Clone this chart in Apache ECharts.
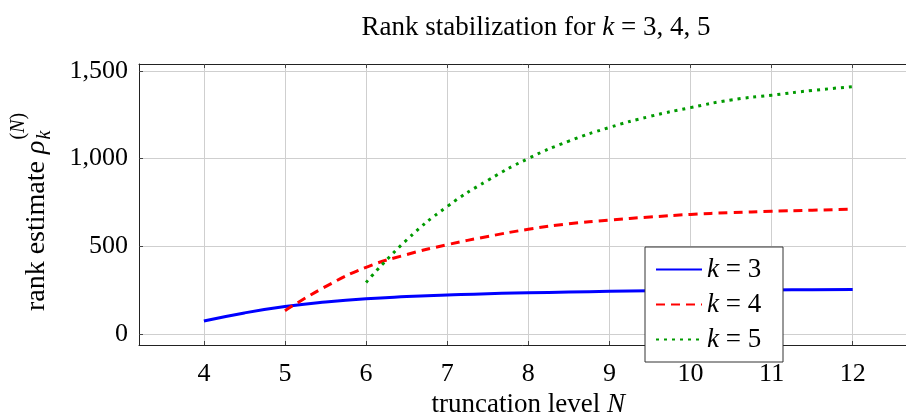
<!DOCTYPE html>
<html>
<head>
<meta charset="utf-8">
<script src="https://cdn.jsdelivr.net/npm/echarts@6/dist/echarts.min.js"></script>
<style>
html,body{margin:0;padding:0;background:#fff;}
#main{width:906px;height:414px;}
</style>
</head>
<body>
<div id="main"></div>
<script>
// ---- data ----
const xTicks = [4, 5, 6, 7, 8, 9, 10, 11, 12];
const yTicks = [0, 500, 1000, 1500];
const seriesNames = ['k = 3', 'k = 4', 'k = 5'];
const nK3 = [4, 4.5, 5, 5.5, 6, 6.5, 7, 7.5, 8, 8.5, 9, 9.5, 10, 10.5, 11, 11.5, 12];
const rhoK3 = [74, 120, 156, 182, 201, 213, 222, 230, 235, 239, 243, 246, 248, 250, 251, 252, 253];
const nK4 = [5, 5.5, 6, 6.5, 7, 7.5, 8, 8.5, 9, 9.5, 10, 10.5, 11, 11.5, 12];
const rhoK4 = [133, 270, 380, 453, 509, 556, 597, 628, 650, 667, 682, 692, 700, 706, 712];
const nK5 = [6, 6.5, 7, 7.5, 8, 8.5, 9, 9.5, 10, 10.5, 11, 11.5, 12];
const rhoK5 = [294, 536, 727, 876, 1001, 1100, 1178, 1241, 1291, 1335, 1362, 1389, 1411];

const FONT = '"Liberation Serif", "Times New Roman", serif';
const FS = 26;   // tick labels
const FT = 27;   // title, axis names, legend
const zip = (xs, ys) => xs.map((x, i) => [x, ys[i]]);

const chart = echarts.init(document.getElementById('main'), null, {renderer: 'canvas'});

// measure text for y-axis label composition
const cv = document.createElement('canvas').getContext('2d');
function tw(str, font) { cv.font = font; return cv.measureText(str).width; }
const FY = 28;
const fMain = FY + 'px ' + FONT;
const fIt = 'italic ' + FY + 'px ' + FONT;
const fScr = 'italic 20px ' + FONT;
const fScrR = '20px ' + FONT;
const wMain = tw('rank estimate ', fMain);
const wRho = tw('ρ', fIt);
const wSup = tw('(', fScrR) + tw('N', fScr) + tw(')', fScrR);
const totalW = wMain + wRho + 1 + wSup;
const yLabelCenter = 212;
const startY = yLabelCenter + totalW / 2;

const richBase = {
  r: {fontFamily: FONT, fontSize: FT, fontWeight: 'normal', color: '#000'},
  i: {fontFamily: FONT, fontSize: FT, fontWeight: 'normal', fontStyle: 'italic', color: '#000'}
};

const axisCommon = {
  type: 'value',
  axisLine: {show: true, onZero: false, lineStyle: {color: '#222', width: 1}},
  axisTick: {show: true, inside: true, length: 4, lineStyle: {color: '#444', width: 1}},
  splitLine: {show: true, lineStyle: {color: '#cfcfcf', width: 1}},
  axisLabel: {fontFamily: FONT, fontSize: FS, color: '#000'}
};

const option = {
  backgroundColor: '#fff',
  animation: false,
  title: {
    text: '{r|Rank stabilization for }{i|k}{r| = 3, 4, 5}',
    left: 531,
    textAlign: 'center',
    top: 9,
    textStyle: {fontWeight: 'normal', rich: richBase}
  },
  grid: {left: 139, top: 64, height: 281, width: 778.6, containLabel: false, outerBoundsMode: 'none'},
  xAxis: [
    Object.assign({}, axisCommon, {
      min: 3.2, max: 12.8,
      position: 'bottom',
      axisTick: Object.assign({}, axisCommon.axisTick, {customValues: xTicks}),
      axisLabel: Object.assign({}, axisCommon.axisLabel, {customValues: xTicks, margin: 16}),
      name: '{r|truncation level }{i|N}',
      nameLocation: 'middle',
      nameGap: 44,
      nameTextStyle: {rich: richBase}
    }),
    Object.assign({}, axisCommon, {
      min: 3.2, max: 12.8,
      position: 'top',
      axisTick: Object.assign({}, axisCommon.axisTick, {customValues: xTicks}),
      axisLabel: {show: false, customValues: xTicks},
      splitLine: {show: false}
    })
  ],
  yAxis: [
    Object.assign({}, axisCommon, {
      min: -63, max: 1540,
      axisTick: Object.assign({}, axisCommon.axisTick, {customValues: yTicks}),
      axisLabel: Object.assign({}, axisCommon.axisLabel, {
        customValues: yTicks, margin: 11,
        formatter: v => v.toLocaleString('en-US')
      })
    })
  ],
  legend: {
    orient: 'vertical',
    left: 645,
    top: 247,
    padding: [9, 14, 9, 10],
    itemWidth: 46,
    itemHeight: 14,
    itemGap: 8,
    backgroundColor: '#fff',
    borderColor: '#333',
    borderWidth: 1,
    borderRadius: 0,
    itemStyle: {opacity: 0, borderWidth: 0},
    data: seriesNames,
    formatter: n => '{i|k}{r|' + n.slice(1) + '}',
    textStyle: {
      lineHeight: 26,
      width: 62,
      rich: {
        r: {fontFamily: FONT, fontSize: FT, color: '#000', lineHeight: 26},
        i: {fontFamily: FONT, fontSize: FT, fontStyle: 'italic', color: '#000', lineHeight: 26}
      }
    }
  },
  graphic: [{
    type: 'group',
    x: 45, y: startY,
    rotation: Math.PI / 2,
    children: [
      {type: 'text', x: 0, y: -8, style: {text: 'rank estimate ', font: fMain, fill: '#000', verticalAlign: 'middle', align: 'left'}},
      {type: 'text', x: wMain, y: -8, style: {text: 'ρ', font: fIt, fill: '#000', verticalAlign: 'middle', align: 'left'}},
      {type: 'text', x: wMain + wRho + 1, y: 0, style: {text: 'k', font: fScr, fill: '#000', verticalAlign: 'middle', align: 'left'}},
      {type: 'text', x: wMain + wRho + 1, y: -26, style: {
        text: '{r|(}{i|N}{r|)}', fill: '#000', verticalAlign: 'middle', align: 'left',
        rich: {r: {font: fScrR}, i: {font: fScr}}
      }}
    ]
  }],
  series: [
    {
      name: seriesNames[0], type: 'line', smooth: true, symbol: 'none', clip: true,
      data: zip(nK3, rhoK3),
      lineStyle: {color: '#0000ff', width: 3, type: 'solid'},
      itemStyle: {color: '#0000ff'}
    },
    {
      name: seriesNames[1], type: 'line', smooth: true, symbol: 'none', clip: true,
      data: zip(nK4, rhoK4),
      lineStyle: {color: '#ff0000', width: 3, type: [9, 6]},
      itemStyle: {color: '#ff0000'}
    },
    {
      name: seriesNames[2], type: 'line', smooth: true, symbol: 'none', clip: true,
      data: zip(nK5, rhoK5),
      lineStyle: {color: '#009a00', width: 3, type: [3, 5], cap: 'butt'},
      itemStyle: {color: '#009a00'}
    }
  ]
};
chart.setOption(option);
</script>
</body>
</html>
